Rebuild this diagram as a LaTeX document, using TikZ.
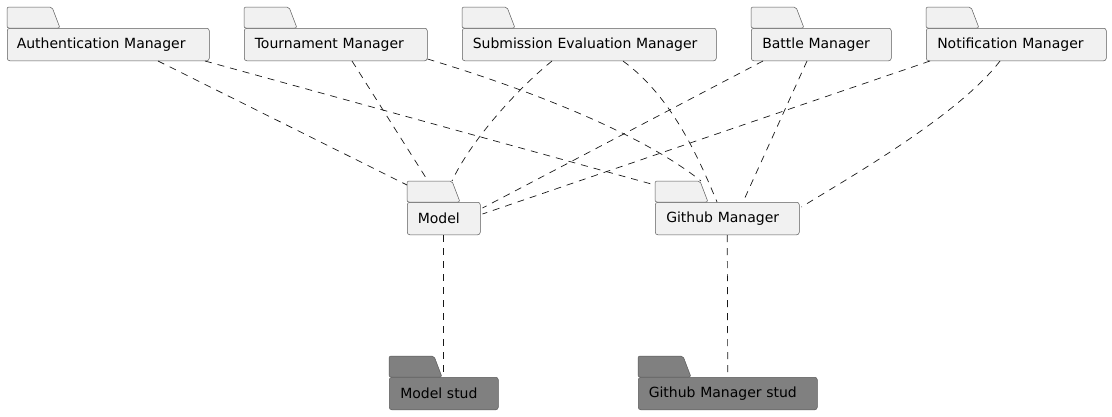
\documentclass[tikz,border=0pt]{standalone}
\usepackage{fontspec}
\setmainfont{DejaVu Sans}
\usetikzlibrary{calc}
\definecolor{pkgfill}{HTML}{F1F1F1}
\definecolor{studfill}{HTML}{808080}
\definecolor{linec}{HTML}{181818}
\definecolor{borderc}{HTML}{5A5A5A}
\tikzset{
  pkg/.style={draw=borderc, line width=0.5pt, fill=pkgfill, rounded corners=2.5pt, anchor=north west,
    inner xsep=0pt, inner ysep=0pt, minimum height=32.5pt, align=left,
    font=\fontsize{14}{16}\selectfont, text=black},
  stud/.style={pkg, fill=studfill},
  tabshape/.style={draw=borderc, line width=0.5pt, fill=pkgfill, rounded corners=2pt},
  studtab/.style={tabshape, fill=studfill},
  dep/.style={draw=linec, line width=0.7pt, dash pattern=on 7pt off 6pt}
}
\newcommand\pkgtab[2]{\path[#2] (#1.north west) -- ++(0,-21) -- ++(45,0) -- ++(8,21) -- cycle;}
\begin{document}
\begin{tikzpicture}[x=1pt,y=-1pt]
\useasboundingbox (0,0) rectangle (1112,416);
% bodies
\node[pkg, text width=202pt] (auth) at (7,28) {\hspace*{9.5pt}Authentication Manager};
\node[pkg, text width=183pt] (tour) at (244,28) {\hspace*{10.5pt}Tournament Manager};
\node[pkg, text width=254pt] (subm) at (462,28) {\hspace*{10.5pt}Submission Evaluation Manager};
\node[pkg, text width=140pt] (battle) at (751,28) {\hspace*{11pt}Battle Manager};
\node[pkg, text width=180pt] (notif) at (926,28) {\hspace*{11pt}Notification Manager};
\node[pkg, text width=73pt] (model) at (407,202) {\hspace*{10.5pt}Model};
\node[pkg, text width=144pt] (gh) at (655,202) {\hspace*{11pt}Github Manager};
\node[stud, text width=109pt] (models) at (389,377) {\hspace*{11pt}Model stud};
\node[stud, text width=179pt] (ghs) at (638,377) {\hspace*{10.5pt}Github Manager stud};
% tabs
\pkgtab{auth}{tabshape}
\pkgtab{tour}{tabshape}
\pkgtab{subm}{tabshape}
\pkgtab{battle}{tabshape}
\pkgtab{notif}{tabshape}
\pkgtab{model}{tabshape}
\pkgtab{gh}{tabshape}
\pkgtab{models}{studtab}
\pkgtab{ghs}{studtab}
% connectors
\draw[dep] ([xshift=151pt]auth.south west) -- ([yshift=17pt]model.north west);
\draw[dep] ([xshift=198pt]auth.south west) -- ([yshift=17pt]gh.north west);
\draw[dep] ([xshift=108pt]tour.south west) -- ([xshift=21pt,yshift=21pt]model.north west);
\draw[dep] ([yshift=2pt]tour.south east) .. controls (527,89) and (641,133) .. ([xshift=46pt,yshift=21pt]gh.north west);
\draw[dep] ([xshift=90pt]subm.south west) .. controls (516,90) and (470,142) .. ([xshift=45pt,yshift=21pt]model.north west);
\draw[dep] ([xshift=161pt]subm.south west) .. controls (671,96) and (698,156) .. ([xshift=62pt]gh.north west);
\draw[dep] ([xshift=12pt]battle.south west) -- ([xshift=2pt,yshift=-6pt]model.north east);
\draw[dep] ([xshift=56pt]battle.south west) -- ([xshift=88pt]gh.north west);
\draw[dep] ([xshift=4pt]notif.south west) -- ([xshift=2pt,yshift=-12pt]model.north east);
\draw[dep] ([xshift=74pt]notif.south west) .. controls (958,116) and (845,180) .. ([xshift=2pt,yshift=-5pt]gh.north east);
\draw[dep] (model.south) -- (models.north);
\draw[dep] (gh.south) -- (ghs.north);
\end{tikzpicture}
\end{document}
